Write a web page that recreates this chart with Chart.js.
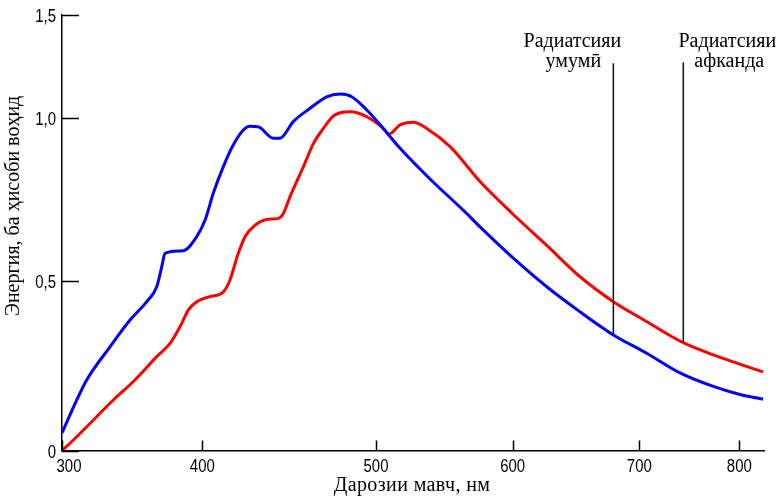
<!DOCTYPE html>
<html>
<head>
<meta charset="utf-8">
<script src="https://cdn.jsdelivr.net/npm/chart.js@4.4.1/dist/chart.umd.min.js"></script>
<style>
  html, body { margin: 0; padding: 0; background: #fff; }
  #wrap { width: 778px; height: 501px; }
</style>
</head>
<body>
<div id="wrap"><canvas id="c" width="778" height="501"></canvas></div>
<script>
// ---- Data (wavelength in nm, energy in relative units) ----
const xTicks = [300, 400, 500, 600, 700, 800];
const yTicks = [0, 0.5, 1.0, 1.5];

const totalWavelength = [300, 310.5, 317.6, 334.2, 348.5, 360.4, 367.5, 371.1, 373.4, 386.5, 396.0, 401.6, 406.3, 412.1, 417.8, 423.6, 427.4, 432.2, 440.9, 444.7, 452.4, 462.0, 471.6, 479.3, 486.0, 494.7, 505.3, 517.6, 539.5, 565.1, 576.1, 600.5, 626.9, 653.2, 679.5, 707.4, 740.7, 774.0, 800.7, 824];
const totalEnergy     = [0.052, 0.149, 0.208, 0.306, 0.385, 0.439, 0.483, 0.544, 0.585, 0.593, 0.636, 0.687, 0.769, 0.851, 0.917, 0.963, 0.975, 0.973, 0.938, 0.938, 0.989, 1.047, 1.103, 1.116, 1.103, 1.039, 0.968, 0.907, 0.813, 0.712, 0.666, 0.570, 0.483, 0.409, 0.341, 0.287, 0.229, 0.189, 0.165, 0.151];

const scatteredWavelength = [300, 308.1, 336.6, 352.0, 367.5, 377.0, 384.1, 390.0, 396.0, 404.4, 412.1, 415.9, 420.7, 424.6, 429.4, 437.1, 443.8, 446.7, 450.5, 458.2, 464.0, 469.7, 475.5, 485.1, 494.7, 505.3, 509.5, 517.6, 527.4, 537.1, 554.2, 576.1, 600.5, 626.9, 653.2, 679.5, 707.4, 744.0, 774.0, 824];
const scatteredEnergy     = [0.0, 0.031, 0.149, 0.208, 0.277, 0.316, 0.365, 0.414, 0.439, 0.454, 0.468, 0.503, 0.585, 0.636, 0.667, 0.689, 0.692, 0.708, 0.759, 0.851, 0.922, 0.968, 1.010, 1.030, 1.006, 0.968, 0.951, 0.979, 0.987, 0.968, 0.912, 0.805, 0.704, 0.609, 0.513, 0.439, 0.380, 0.318, 0.282, 0.232];

const markerWavelength = [679.5, 744.0];
const markerBottom = [0.341, 0.318];
const markerTop = [1.266, 1.271];
const markerLabels = [["Радиатсияи", "умумӣ"], ["Радиатсияи", "афканда"]];

const xTitle = "Дарозии мавч, нм";
const yTitle = "Энергия, ба ҳисоби воҳид";

// ---- Axis calibration of the original (non-uniform) drawing ----
const WARP = {
  x: [[300, 0], [400, 0.1999], [500, 0.4473], [600, 0.642], [700, 0.8224], [800, 0.9648], [825, 1.0]],
  y: [[0, 0], [0.5, 0.3892], [1.0, 0.7635], [1.5, 1.0]]
};

function interp(stops, v, a, b) {
  let i = 0;
  while (i < stops.length - 2 && v > stops[i + 1][a]) i++;
  const s0 = stops[i], s1 = stops[i + 1];
  return s0[b] + (v - s0[a]) * (s1[b] - s0[b]) / (s1[a] - s0[a]);
}

class WarpScale extends Chart.LinearScale {
  getPixelForValue(value) {
    return this.getPixelForDecimal(interp(WARP[this.id], value, 0, 1));
  }
  getValueForPixel(pixel) {
    return interp(WARP[this.id], this.getDecimalForPixel(pixel), 1, 0);
  }
}
WarpScale.id = 'warp';
WarpScale.defaults = Chart.LinearScale.defaults;
Chart.register(WarpScale);

const pts = (xs, ys) => xs.map((x, i) => ({ x: x, y: ys[i] }));

const markerSets = markerWavelength.map((w, i) => ({
  data: [{ x: w, y: markerBottom[i] }, { x: w, y: markerTop[i] }],
  borderColor: '#111',
  borderWidth: 1.5,
  pointRadius: 0,
  tension: 0
}));

const fmtX = (v) => String(v);
const fmtY = (v) => v === 0 ? '0' : v.toFixed(1).replace('.', ',');

const decor = {
  id: 'decor',
  afterDraw(chart) {
    const ctx = chart.ctx;
    const xs = chart.scales.x, ys = chart.scales.y;
    const a = chart.chartArea;
    ctx.save();
    // inward tick marks
    ctx.strokeStyle = '#000';
    ctx.lineWidth = 1.5;
    ctx.beginPath();
    ys.ticks.forEach((t, i) => {
      const p = Math.round(ys.getPixelForTick(i)) + 0.5;
      ctx.moveTo(a.left, p); ctx.lineTo(a.left + 17, p);
    });
    xs.ticks.forEach((t, i) => {
      const p = Math.round(xs.getPixelForTick(i)) + 0.5;
      ctx.moveTo(p, a.bottom); ctx.lineTo(p, a.bottom - 10);
    });
    ctx.stroke();

    // tick labels (condensed sans)
    ctx.fillStyle = '#000';
    ctx.font = '18px "Liberation Sans", Arial, sans-serif';
    ctx.textBaseline = 'alphabetic';
    ctx.textAlign = 'center';
    xs.ticks.forEach((t, i) => {
      const p = xs.getPixelForTick(i) + (i === 0 ? 7 : 0);
      ctx.save(); ctx.translate(p, a.bottom + 21.5); ctx.scale(0.83, 1);
      ctx.fillText(fmtX(t.value), 0, 0); ctx.restore();
    });
    ctx.textAlign = 'right';
    ys.ticks.forEach((t, i) => {
      const p = ys.getPixelForTick(i);
      ctx.save(); ctx.translate(a.left - 6, p + 7); ctx.scale(0.83, 1);
      ctx.fillText(fmtY(t.value), 0, 0); ctx.restore();
    });

    // annotations and titles (serif)
    ctx.font = '20px "Liberation Serif", "Times New Roman", serif';
    ctx.textAlign = 'center';
    ctx.textBaseline = 'middle';
    const offs = [-41, 44];
    markerWavelength.forEach((w, i) => {
      const px = xs.getPixelForValue(w) + offs[i];
      ctx.fillText(markerLabels[i][0], px, 42);
      ctx.fillText(markerLabels[i][1], px + (i === 1 ? 2 : 1), 62);
    });
    try { ctx.letterSpacing = '0.4px'; } catch (e) {}
    ctx.fillText(xTitle, 412, 486);
    try { ctx.letterSpacing = '0px'; } catch (e) {}

    ctx.translate(14, 206);
    ctx.rotate(-Math.PI / 2);
    ctx.fillText(yTitle, 0, 0);
    ctx.restore();
  }
};

new Chart(document.getElementById('c'), {
  type: 'line',
  data: {
    datasets: [
      ...markerSets,
      { data: pts(totalWavelength, totalEnergy), borderColor: '#0000ff', borderWidth: 3, pointRadius: 0, cubicInterpolationMode: 'monotone' },
      { data: pts(scatteredWavelength, scatteredEnergy), borderColor: '#ff0000', borderWidth: 3, pointRadius: 0, cubicInterpolationMode: 'monotone' }
    ]
  },
  options: {
    responsive: false,
    animation: false,
    events: [],
    devicePixelRatio: 1,
    layout: { padding: { top: 15, right: 14, left: 0, bottom: 0 } },
    plugins: { legend: { display: false }, tooltip: { enabled: false } },
    scales: {
      x: {
        type: 'warp', min: 300, max: 825,
        grid: { display: false },
        border: { display: true, color: '#000', width: 1.5 },
        afterBuildTicks: (s) => { s.ticks = xTicks.map(v => ({ value: v })); },
        afterFit: (s) => { s.height = 50.5; },
        ticks: { display: false, autoSkip: false, callback: fmtX }
      },
      y: {
        type: 'warp', min: 0, max: 1.5,
        grid: { display: false },
        border: { display: true, color: '#000', width: 1.5 },
        afterBuildTicks: (s) => { s.ticks = yTicks.map(v => ({ value: v })); },
        afterFit: (s) => { s.width = 62; },
        ticks: { display: false, autoSkip: false, callback: fmtY }
      }
    }
  },
  plugins: [decor]
});
</script>
</body>
</html>
